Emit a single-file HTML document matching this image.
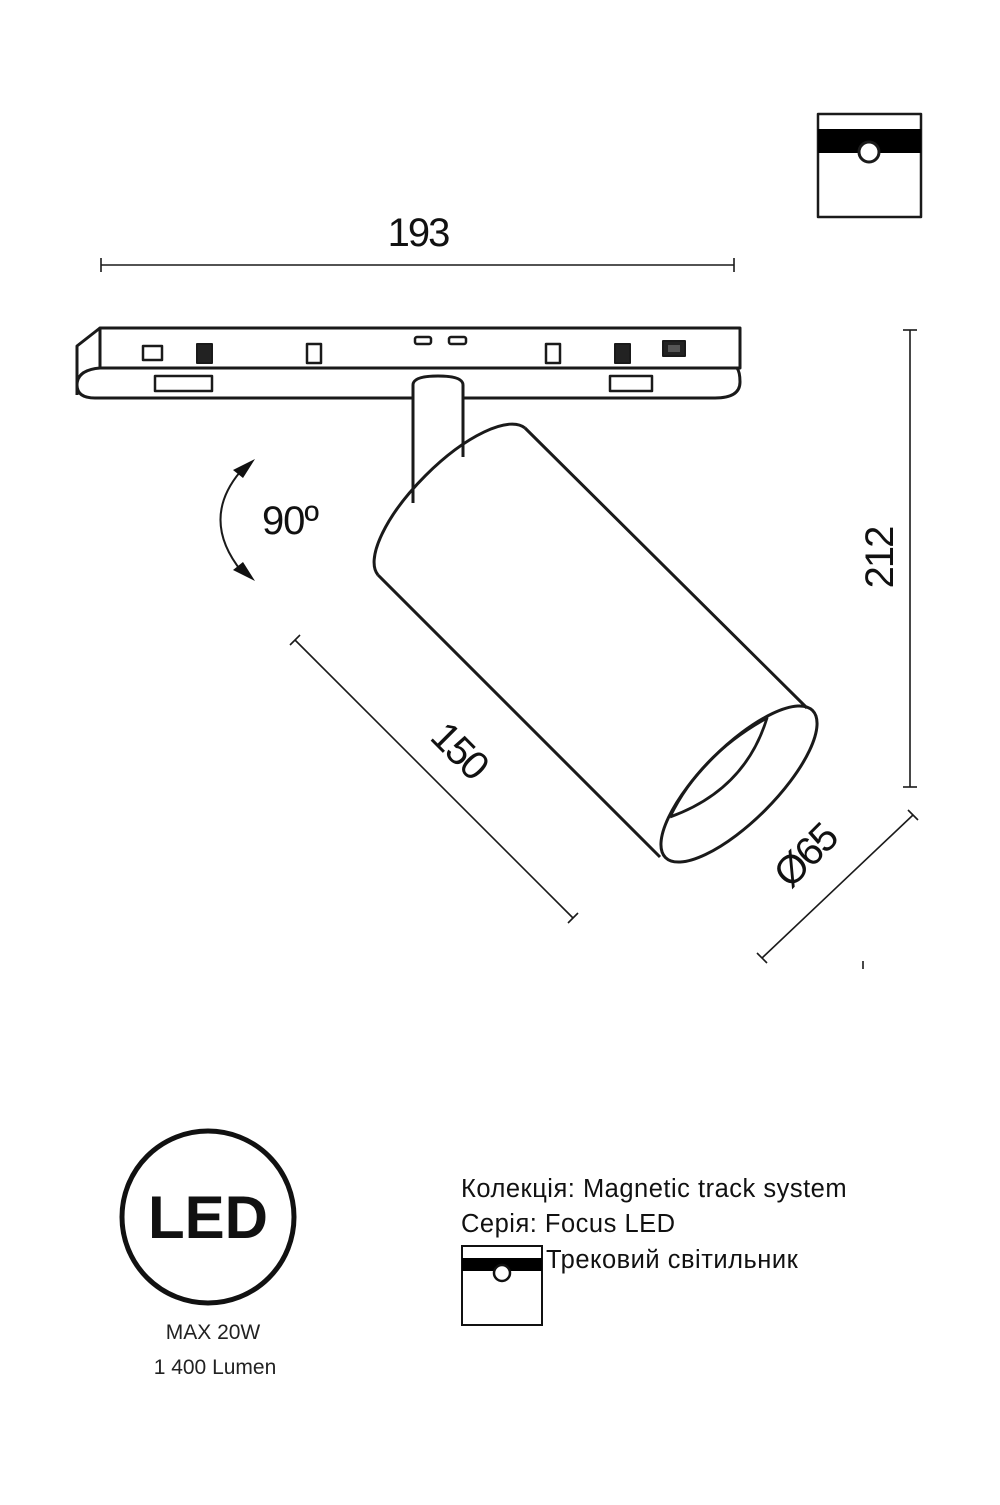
<!DOCTYPE html>
<html><head><meta charset="utf-8"><style>
html,body{margin:0;padding:0;background:#fff;}
body{width:1000px;height:1500px;overflow:hidden;}
</style></head><body>
<svg width="1000" height="1500" viewBox="0 0 1000 1500" xmlns="http://www.w3.org/2000/svg">
<g fill="none" stroke="#1a1a1a" stroke-width="3" stroke-linejoin="round">
<rect x="818" y="114" width="103" height="103" stroke-width="2.5"/>
<rect x="818" y="129" width="103" height="24" fill="#000" stroke="none"/>
<circle cx="869" cy="152" r="10" fill="#fff" stroke-width="3"/>

<path d="M100,328 L740,328 L740,368 L100,368 Z"/>
<path d="M100,328 L77,346 L77,395"/>
<path d="M100,368 Q77,370 77,385 Q77,398 95,398 L715,398 Q740,398 740,382 Q740,372 737,368"/>
<rect x="143" y="346" width="19" height="14" stroke-width="2.5"/>
<rect x="197" y="344" width="15" height="19" fill="#222" stroke-width="2"/>
<rect x="307" y="344" width="14" height="19" stroke-width="2.5"/>
<rect x="415" y="337" width="16" height="7" rx="2" stroke-width="2.5"/>
<rect x="449" y="337" width="17" height="7" rx="2" stroke-width="2.5"/>
<rect x="546" y="344" width="14" height="19" stroke-width="2.5"/>
<rect x="615" y="344" width="15" height="19" fill="#222" stroke-width="2"/>
<rect x="663" y="341" width="22" height="15" fill="#222" stroke-width="2"/>
<rect x="668" y="345" width="12" height="7" fill="#555" stroke="none"/>
<rect x="155" y="376" width="57" height="15" stroke-width="2.5"/>
<rect x="610" y="376" width="42" height="15" stroke-width="2.5"/>

<path d="M413,503 L413,385 Q413,376 438,376 Q463,376 463,385 L463,457" fill="#fff"/>

<path d="M378,575 L660,857 M525,428 L807,708"/>
<path d="M378,575 A104,38 -45 0 1 525,428" />
<ellipse cx="739" cy="784" rx="104" ry="37" transform="rotate(-45 739 784)"/>
<path d="M670,817 Q700,755 767,718 Q745,790 670,817" stroke-width="2.8"/>

<g stroke-width="1.6">
<line x1="101" y1="265" x2="734" y2="265"/>
<line x1="101" y1="258" x2="101" y2="272"/>
<line x1="734" y1="258" x2="734" y2="272"/>
<line x1="910" y1="330" x2="910" y2="787"/>
<line x1="903" y1="330" x2="917" y2="330"/>
<line x1="903" y1="787" x2="917" y2="787"/>
<line x1="295" y1="640" x2="573" y2="918"/>
<line x1="290" y1="645" x2="300" y2="635"/>
<line x1="568" y1="923" x2="578" y2="913"/>
<line x1="762" y1="958" x2="913" y2="815"/>
<line x1="757" y1="953" x2="767" y2="963"/>
<line x1="908" y1="810" x2="918" y2="820"/>
<line x1="863" y1="961" x2="863" y2="969"/>
</g>
<path d="M240,472 Q200,520 242,572" stroke-width="2"/>
</g>
<polygon points="255,459 233,470 243,478" fill="#111"/>
<polygon points="255,581 233,570 243,562" fill="#111"/>

<g font-family="Liberation Sans, sans-serif" fill="#111">
<text x="418" y="246" font-size="40" text-anchor="middle" letter-spacing="-2">193</text>
<text x="290" y="534" font-size="40" text-anchor="middle" letter-spacing="-1">90º</text>
<text transform="translate(893,558) rotate(-90)" font-size="40" text-anchor="middle" letter-spacing="-2">212</text>
<text transform="translate(450,760) rotate(45)" font-size="40" text-anchor="middle" letter-spacing="-2">150</text>
<text transform="translate(815,865) rotate(-45)" font-size="40" text-anchor="middle" letter-spacing="-2">Ø65</text>
</g>

<circle cx="208" cy="1217" r="86" fill="none" stroke="#111" stroke-width="5"/>
<text x="208" y="1238" font-family="Liberation Sans, sans-serif" font-weight="bold" font-size="60" text-anchor="middle" fill="#111">LED</text>
<text x="213" y="1339" font-family="Liberation Sans, sans-serif" font-size="21" text-anchor="middle" fill="#222">MAX 20W</text>
<text x="215" y="1374" font-family="Liberation Sans, sans-serif" font-size="21" text-anchor="middle" fill="#222">1 400 Lumen</text>

<g font-family="Liberation Sans, DejaVu Sans, sans-serif" font-size="25.5" fill="#111" letter-spacing="0.5">
<text x="461" y="1197">Колекція: Magnetic track system</text>
<text x="461" y="1232">Серія: Focus LED</text>
<text x="546" y="1268">Трековий світильник</text>
</g>
<rect x="462" y="1246" width="80" height="79" fill="none" stroke="#111" stroke-width="2"/>
<rect x="462" y="1258" width="80" height="13" fill="#000"/>
<circle cx="502" cy="1273" r="8" fill="#fff" stroke="#111" stroke-width="2.5"/>
</svg>
</body></html>
